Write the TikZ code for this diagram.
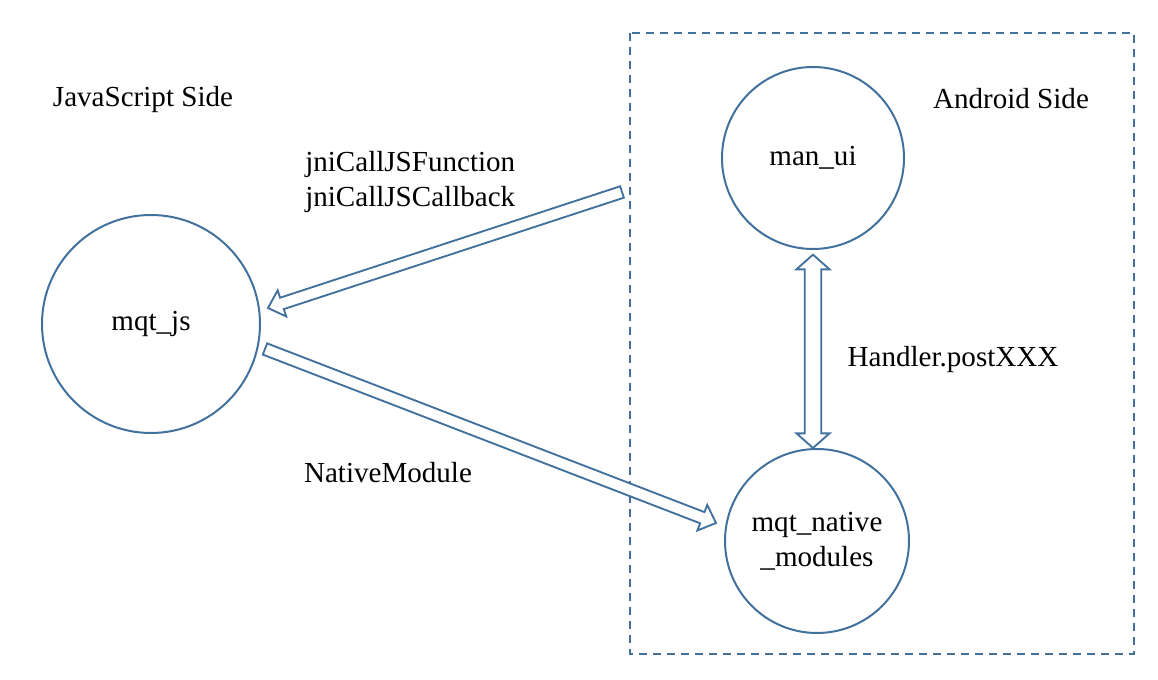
\documentclass[tikz,border=0pt]{standalone}
\usepackage{fontspec}
\setmainfont{Liberation Serif}
\usepackage{tikz}
\usetikzlibrary{calc, positioning}
\usepackage{xcolor}
\definecolor{edgeblue}{RGB}{65,113,156}

% hollow block arrows, drawn as an outline
\newcommand{\hollowarrow}[2]{%
  \coordinate (hb) at ($(#2)!11pt!(#1)$);
  \draw[blockarrow] ($(#1)!4.5pt!90:(#2)$) -- ($(hb)!4.5pt!-90:(#1)$) -- ($(hb)!10.3pt!-90:(#1)$)
    -- (#2) -- ($(hb)!10.3pt!90:(#1)$) -- ($(hb)!4.5pt!90:(#1)$) -- ($(#1)!4.5pt!-90:(#2)$) -- cycle;
}
\newcommand{\hollowdoublearrow}[2]{%
  \coordinate (ha) at ($(#1)!11pt!(#2)$);
  \coordinate (hb) at ($(#2)!11pt!(#1)$);
  \draw[blockarrow] (#1) -- ($(ha)!12.4pt!90:(#2)$) -- ($(ha)!6.2pt!90:(#2)$) -- ($(hb)!6.2pt!-90:(#1)$)
    -- ($(hb)!12.4pt!-90:(#1)$) -- (#2) -- ($(hb)!12.4pt!90:(#1)$) -- ($(hb)!6.2pt!90:(#1)$)
    -- ($(ha)!6.2pt!-90:(#2)$) -- ($(ha)!12.4pt!-90:(#2)$) -- cycle;
}

\begin{document}
\begin{tikzpicture}[x=0.75pt, y=-0.75pt,
  every node/.style={font=\fontsize{21.8}{26.2}\selectfont, inner sep=0pt},
  module/.style={circle, draw=edgeblue, line width=1.5pt, align=center},
  blockarrow/.style={draw=edgeblue, line width=1.4pt, line join=miter, fill=white},
  sidebox/.style={draw=edgeblue, line width=1.6pt, dash pattern=on 6pt off 4.5pt}]
  \useasboundingbox (0,0) rectangle (1158,680);
  % Android side frame
  \draw[sidebox] (630,33) rectangle (1134,654);
  \node (jsside) at (143,100) {JavaScript Side};
  \node (andside) at (1011,99) {Android Side};
  % Modules
  \node[module, minimum size=163.5pt] (mqtjs) at (151,324) {mqt\_js};
  \node[module, minimum size=136.5pt] (manui) at (813,158) {man\_ui};
  \node[module, minimum size=138pt] (native) at (817,541) {mqt\_native\\\_modules};
  % Arrow ends
  \coordinate (jnitail) at (622,192);
  \coordinate (jsin) at (268,308);
  \coordinate (jsout) at (265,349);
  \coordinate (nativein) at (716,523);
  \coordinate (uibot) at ([yshift=-3.5pt]manui.south);
  \coordinate (nativetop) at (manui.south |- native.north);
  \hollowarrow{jnitail}{jsin}
  \hollowarrow{jsout}{nativein}
  \hollowdoublearrow{uibot}{nativetop}
  % Labels
  \node[anchor=west, align=left] (jnilbl) at (305,182) {jniCallJSFunction\\jniCallJSCallback};
  \node (nmlbl) at (388,473) {NativeModule};
  \node (handlerlbl) at (953,360) {Handler.postXXX};
\end{tikzpicture}
\end{document}
